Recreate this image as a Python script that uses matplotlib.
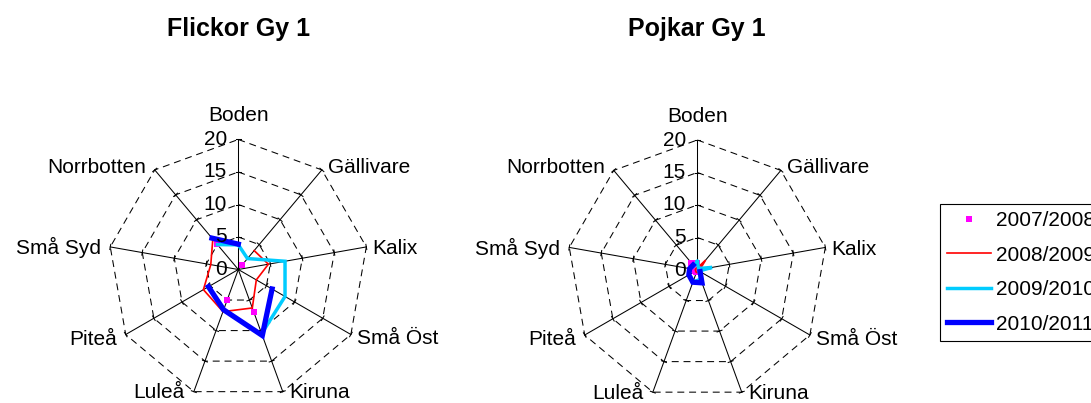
import numpy as np
import matplotlib
matplotlib.use('Agg')
import matplotlib.pyplot as plt
from matplotlib.lines import Line2D

plt.rcParams['font.family'] = ['Liberation Sans', 'DejaVu Sans']
plt.rcParams['lines.scale_dashes'] = False

nan = np.nan
categories = ["Boden", "Gällivare", "Kalix", "Små Öst", "Kiruna",
              "Luleå", "Piteå", "Små Syd", "Norrbotten"]
ticks = [0, 5, 10, 15, 20]
seasons = ["2007/2008", "2008/2009", "2009/2010", "2010/2011"]
titles = ["Flickor Gy 1", "Pojkar Gy 1"]

flickor_0708 = [nan, 1.0, nan, nan, 6.9, 5.0, nan, nan, 5.2]
flickor_0809 = [nan, 3.8, 4.7, 3.2, 6.3, 6.9, 6.2, 4.3, 6.1]
flickor_0910 = [3.8, 2.2, 7.3, 8.3, 10.5, nan, nan, nan, 5.0]
flickor_1011 = [3.9, nan, nan, 6.0, 10.8, 6.6, 5.3, nan, 6.3]

pojkar_0708 = [1.1, 0.3, nan, nan, 0.3, 0.4, 0.4, 0.6, 1.4]
pojkar_0809 = [0.3, 2.0, 0.4, 0.3, 0.4, 0.4, 0.3, 0.3, 0.3]
pojkar_0910 = [1.3, 0.3, 2.3, 0.3, 1.5, 2.0, 1.5, 1.2, 0.8]
pojkar_1011 = [nan, nan, nan, 0.5, 2.1, 2.0, 1.5, 1.2, 1.0]

W, H = 1091, 403
fig = plt.figure(figsize=(W / 100, H / 100), dpi=100)
PX = 6.5                     # pixels per data unit
centers = [(238.3, 269.5), (697.3, 270.0)]
XR, YR = 30.0, 21.5

styles = [dict(color='#FF00FF', ls='none', marker='s', ms=4.4, mew=0),
          dict(color='#FF0000', lw=1.2),
          dict(color='#00CCFF', lw=2.5),
          dict(color='#0000FF', lw=3.8)]

n = len(categories)
theta = np.arange(n) * 2 * np.pi / n
sx, cyv = np.sin(theta), np.cos(theta)
FS = 15


def draw(ax, series, title, cx):
    rmax = ticks[-1]
    for t in ticks[1:]:
        xs = np.append(t * sx, t * sx[0])
        ys = np.append(t * cyv, t * cyv[0])
        ax.plot(xs, ys, color='black', lw=0.75, ls=(0, (5, 3.5)))
    for i in range(n):
        ax.plot([0, rmax * sx[i]], [0, rmax * cyv[i]], color='black', lw=0.75)
        for t in ticks[1:]:
            px, py = t * sx[i], t * cyv[i]
            tx, ty = cyv[i], -sx[i]
            L = 0.4
            ax.plot([px - L * tx, px + L * tx], [py - L * ty, py + L * ty],
                    color='black', lw=0.75)
    for t in ticks:
        ax.text(-1.75, t, str(t), ha='right', va='center', fontsize=FS)
    for i, name in enumerate(categories):
        x, y = rmax * sx[i], rmax * cyv[i]
        if i == 0:
            ax.annotate(name, (x, y), xytext=(0, 18 * 0.72), textcoords='offset points',
                        ha='center', va='baseline', fontsize=FS)
            continue
        if sx[i] > 0:
            ha, dx = 'left', 6
        else:
            ha, dx = 'right', -9
        if cyv[i] > 0.5:
            dy = 3
        elif cyv[i] < -0.8:
            dy = 6.5
        elif cyv[i] < -0.3:
            dy = 10
        else:
            dy = 7.5
        ax.annotate(name, (x, y), xytext=(dx * 0.72, -dy * 0.72),
                    textcoords='offset points', ha=ha, va='baseline', fontsize=FS)
    for vals, st in zip(series, styles):
        v = np.array(vals + [vals[0]], dtype=float)
        xs = v * np.append(sx, sx[0])
        ys = v * np.append(cyv, cyv[0])
        if st.get('ls') == 'none':
            ax.plot(xs[:-1], ys[:-1], clip_on=False, **st)
        else:
            ax.plot(xs, ys, clip_on=False, solid_joinstyle='miter', **st)
    fig.text(cx / W, 1 - 36.2 / H, title, ha='center', va='baseline',
             fontsize=18, fontweight='bold')


all_series = [[flickor_0708, flickor_0809, flickor_0910, flickor_1011],
              [pojkar_0708, pojkar_0809, pojkar_0910, pojkar_1011]]

for (cx, cy), series, title in zip(centers, all_series, titles):
    wpx, hpx = 2 * XR * PX, 2 * YR * PX
    left = (cx - wpx / 2) / W
    bottom = ((H - cy) - hpx / 2) / H
    ax = fig.add_axes([left, bottom, wpx / W, hpx / H])
    ax.set_xlim(-XR, XR)
    ax.set_ylim(-YR, YR)
    ax.axis('off')
    draw(ax, series, title, cx)

handles = [Line2D([], [], **st) for st in styles]
leg = fig.legend(handles, seasons, loc='upper left',
                 bbox_to_anchor=(940 / W, 1 - 204 / H), bbox_transform=fig.transFigure,
                 frameon=True, fancybox=False, edgecolor='black', fontsize=FS,
                 handlelength=2.1, handletextpad=0.25, borderpad=0.35,
                 labelspacing=0.74, borderaxespad=0, framealpha=1)
leg.get_frame().set_linewidth(0.8)

fig.savefig('out.png', dpi=100)
